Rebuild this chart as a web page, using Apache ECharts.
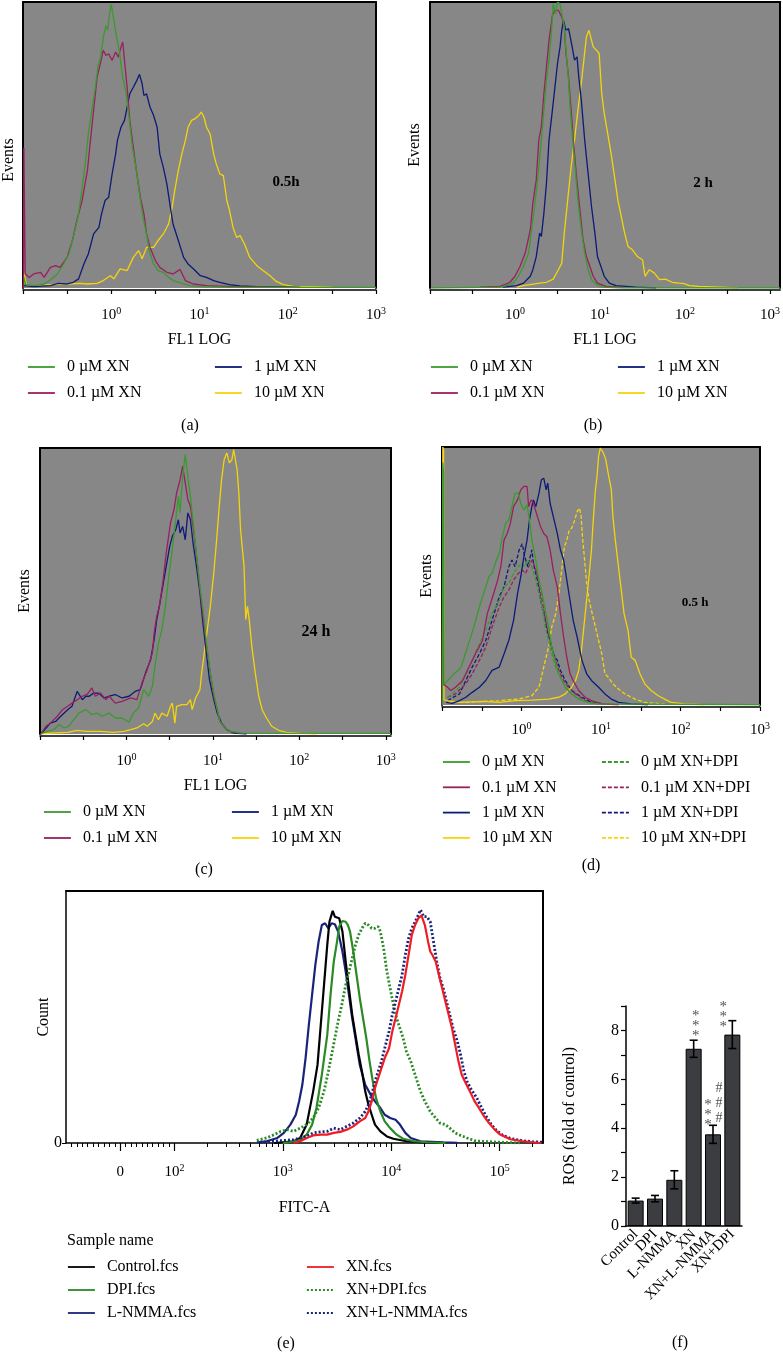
<!DOCTYPE html>
<html><head><meta charset="utf-8">
<script src="https://cdn.jsdelivr.net/npm/echarts@6/dist/echarts.min.js"></script>
<style>html,body{margin:0;padding:0;background:#fff}#c{width:783px;height:1352px}</style>
</head><body><div id="c"></div>
<script>
// ---------- DATA (x = log10 of fluorescence, y = % of panel's max count) ----------
// Panel (a) 0.5 h
const a_0 = [[-0.99,3.7],[-0.97,1.2],[-0.88,0.8],[-0.76,1.4],[-0.69,2.8],[-0.61,4.9],[-0.54,8.4],[-0.48,11.9],[-0.43,17.7],[-0.37,25.9],[-0.33,35.2],[-0.29,44.6],[-0.26,53.9],[-0.22,62.1],[-0.18,70.2],[-0.15,77.8],[-0.12,80.7],[-0.09,87.7],[-0.06,91.8],[-0.04,90.1],[-0.02,95.9],[0,99.2],[0.03,93.6],[0.06,87.7],[0.09,83.1],[0.13,73.7],[0.17,67.9],[0.21,57.4],[0.24,49.2],[0.28,42.2],[0.32,32.9],[0.36,24.7],[0.40,18.9],[0.43,13.1],[0.48,8.4],[0.53,6.1],[0.59,5.5],[0.65,3.7],[0.70,2.6],[0.80,1.6],[0.89,0.8],[1.0,0.5],[1.38,0.2],[3,0.2]];
const a_01 = [[-0.995,0],[-0.99,49],[-0.98,49],[-0.975,5],[-0.93,3.7],[-0.88,4.9],[-0.80,5.5],[-0.76,3.7],[-0.69,7.2],[-0.63,7.8],[-0.58,7.2],[-0.50,10.7],[-0.44,16.6],[-0.39,23.6],[-0.33,30.6],[-0.27,41.1],[-0.24,50.4],[-0.20,62.1],[-0.16,73.7],[-0.12,79],[-0.09,83.1],[-0.06,81.3],[-0.03,81.9],[0.01,79.6],[0.05,82.5],[0.08,80.7],[0.11,84.2],[0.13,86],[0.15,79.6],[0.18,70.2],[0.21,58.6],[0.25,49.2],[0.29,39.9],[0.33,31.7],[0.37,25.9],[0.40,18.9],[0.44,14.2],[0.50,9.6],[0.55,7.2],[0.63,5.5],[0.70,4.9],[0.78,6.5],[0.84,2.6],[0.93,1.4],[1.08,0.8],[1.38,0.5],[2.14,0.2]];
const a_1 = [[-0.99,0.8],[-0.88,0.5],[-0.69,0.8],[-0.60,1.6],[-0.50,1.4],[-0.43,2],[-0.37,3.2],[-0.31,8.4],[-0.26,11.9],[-0.20,18.9],[-0.14,21.2],[-0.11,25.9],[-0.07,30.6],[-0.03,31.7],[0.01,39.9],[0.05,46.9],[0.07,51.6],[0.11,56.2],[0.15,58.6],[0.18,63.2],[0.21,67.9],[0.25,70.2],[0.29,72.6],[0.32,74.7],[0.35,71.4],[0.37,67.3],[0.40,67.9],[0.44,63.2],[0.48,60.3],[0.52,56.2],[0.55,46.9],[0.59,42.2],[0.63,36.4],[0.67,28.2],[0.70,22.4],[0.76,16.6],[0.82,10.7],[0.87,8.4],[0.93,6.7],[1.01,4.3],[1.08,3.7],[1.16,2.6],[1.23,2],[1.34,1.2],[1.46,0.7],[1.65,0.5],[2.14,0.2]];
const a_10 = [[-0.995,0],[-0.99,5.5],[-0.96,0.8],[-0.88,0.8],[-0.69,1.2],[-0.50,1.4],[-0.35,1.6],[-0.27,1.4],[-0.16,1.6],[-0.09,2.6],[-0.01,4.3],[0.03,3.2],[0.10,6.7],[0.18,6.1],[0.25,10.7],[0.31,13.1],[0.35,10.2],[0.40,14.2],[0.48,14.2],[0.53,16.6],[0.59,18.9],[0.65,22.4],[0.69,28.2],[0.72,34.1],[0.76,41.1],[0.80,46.9],[0.84,51.6],[0.87,56.2],[0.91,58.6],[0.95,59.2],[0.99,60.3],[1.02,61.5],[1.05,59.8],[1.08,56.2],[1.12,53.9],[1.16,46.9],[1.19,43.4],[1.23,39.9],[1.27,39.3],[1.31,30.6],[1.34,27.1],[1.38,21.2],[1.42,17.7],[1.46,18.3],[1.51,15.4],[1.57,10.7],[1.65,7.8],[1.72,6.1],[1.80,4.3],[1.87,2.3],[1.95,1.2],[2.06,0.6],[2.29,0.5],[2.51,0.2]];
// Panel (b) 2 h
const b_0 = [[-0.99,0],[-0.18,0.3],[-0.10,0.8],[-0.02,1.7],[0.04,4.1],[0.10,7.6],[0.16,12.2],[0.19,19.2],[0.23,28.5],[0.27,39],[0.31,51.7],[0.34,62.2],[0.37,72.7],[0.40,79.7],[0.43,90.1],[0.45,99.4],[0.48,95.9],[0.50,100],[0.53,99.4],[0.55,95.9],[0.58,91.3],[0.60,83.1],[0.63,72.7],[0.65,62.2],[0.68,51.7],[0.71,41.3],[0.74,30.8],[0.78,20.3],[0.82,12.2],[0.86,6.4],[0.90,2.9],[0.96,1.2],[1.03,0.3],[1.27,0],[3.12,0]];
const b_01 = [[-0.41,0.3],[-0.18,0.6],[-0.12,1.2],[-0.06,2],[0,4.1],[0.06,7.6],[0.12,12.2],[0.18,20.3],[0.21,29.7],[0.25,37.8],[0.28,51.7],[0.31,56.4],[0.34,68],[0.37,77.3],[0.40,86.6],[0.44,95.3],[0.47,97.1],[0.51,97.1],[0.53,97.7],[0.55,94.8],[0.58,91.3],[0.60,82],[0.63,73.8],[0.66,62.2],[0.69,50.6],[0.72,40.1],[0.76,28.5],[0.80,16.9],[0.84,11],[0.88,7.6],[0.92,4.1],[0.97,1.7],[1.07,0.6],[1.27,0.2]];
const b_1 = [[-0.14,0.3],[0.02,0.8],[0.10,1.7],[0.18,4.1],[0.21,6.4],[0.25,11],[0.29,19.2],[0.31,18],[0.34,26.2],[0.37,36.6],[0.40,51.7],[0.44,62.2],[0.47,70.3],[0.50,78.5],[0.53,84.3],[0.55,90.1],[0.57,93.6],[0.60,90.1],[0.63,90.7],[0.65,87.8],[0.68,83.1],[0.70,79.7],[0.73,80.8],[0.75,73.8],[0.78,65.7],[0.82,51.7],[0.86,40.1],[0.90,28.5],[0.94,19.2],[0.97,11],[1.01,7.6],[1.05,4.1],[1.11,1.7],[1.19,0.8],[1.42,0.3],[1.66,0]];
const b_10 = [[0.02,0.3],[0.10,0.8],[0.18,1.2],[0.29,1.7],[0.37,2],[0.45,3.1],[0.51,6.4],[0.55,8.7],[0.58,19.2],[0.62,30.8],[0.66,42.4],[0.70,51.7],[0.74,62.2],[0.78,71.5],[0.81,79.7],[0.84,87.8],[0.87,90.1],[0.89,87.8],[0.92,84.3],[0.96,83.1],[0.99,82],[1.02,68],[1.05,61],[1.09,54.1],[1.13,47.1],[1.17,39],[1.21,30.8],[1.25,25],[1.29,19.2],[1.33,14.5],[1.38,13.4],[1.44,11],[1.50,9.9],[1.53,4.1],[1.58,6.4],[1.64,5.2],[1.70,2.9],[1.77,3.1],[1.85,2],[1.93,1.7],[1.99,1.5],[2.05,0.8],[2.16,0.6],[2.40,0.3],[2.63,0]];
// Panel (c) 24 h
const c_0 = [[-0.99,0],[-0.92,0.9],[-0.84,1.5],[-0.78,3.3],[-0.72,2.1],[-0.67,2.7],[-0.61,5],[-0.55,7.3],[-0.47,8.5],[-0.40,6.8],[-0.34,7.3],[-0.28,6.2],[-0.20,7.3],[-0.13,5.6],[-0.05,5.6],[0.03,4.1],[0.08,7.3],[0.14,9.1],[0.20,15.5],[0.26,13.2],[0.30,16.7],[0.33,23.7],[0.37,31.8],[0.41,36.5],[0.45,44.6],[0.49,55.1],[0.53,64.5],[0.57,74.9],[0.60,83.1],[0.62,77.3],[0.65,90.1],[0.68,97.7],[0.71,90.1],[0.74,83.1],[0.78,71.4],[0.82,59.8],[0.85,51.6],[0.89,42.3],[0.93,30.7],[0.97,21.3],[1.01,14.3],[1.05,8.5],[1.08,4.4],[1.14,2.1],[1.20,0.9],[1.32,0.3],[3.06,0.2]];
const c_01 = [[-0.99,0],[-0.93,2.7],[-0.88,3.8],[-0.80,6.2],[-0.74,8.5],[-0.68,9.7],[-0.63,10.8],[-0.57,12],[-0.51,13.2],[-0.45,14],[-0.40,16.1],[-0.36,13.2],[-0.30,14.3],[-0.24,12],[-0.20,13.2],[-0.13,10.8],[-0.05,11.4],[0.05,12.6],[0.12,12],[0.18,17.8],[0.24,22.5],[0.30,28.3],[0.32,35.3],[0.35,41.1],[0.38,44.6],[0.42,52.8],[0.46,63.3],[0.51,73.8],[0.55,78.4],[0.58,84.3],[0.62,88.9],[0.65,93.6],[0.68,87.8],[0.71,81.9],[0.74,79.6],[0.78,70.3],[0.82,59.8],[0.85,50.5],[0.89,40],[0.93,29.5],[0.97,21.3],[1.01,13.2],[1.05,8.5],[1.08,4.4],[1.14,2.1],[1.20,0.9],[1.32,0.3]];
const c_1 = [[-0.99,0],[-0.93,2.1],[-0.88,3.8],[-0.82,4.4],[-0.76,6.2],[-0.68,8.5],[-0.63,9.7],[-0.57,14.9],[-0.51,12],[-0.47,13.2],[-0.43,13.2],[-0.38,14.3],[-0.32,14.3],[-0.26,12.6],[-0.20,13.2],[-0.13,13.8],[-0.05,12.6],[0.03,13.2],[0.10,14.9],[0.16,15.5],[0.22,21.3],[0.28,26],[0.32,33],[0.35,40],[0.38,44.6],[0.42,51.6],[0.46,58.6],[0.50,65.6],[0.53,69.1],[0.57,71.4],[0.60,74.9],[0.62,70.3],[0.65,72.6],[0.68,67.9],[0.71,77.3],[0.74,74.9],[0.77,66.8],[0.81,58.6],[0.85,49.3],[0.88,40],[0.92,29.5],[0.96,19],[1.01,12],[1.05,7.3],[1.10,3.8],[1.16,1.5],[1.24,0.3],[1.39,0]];
const c_10 = [[-0.99,0],[-0.88,0.3],[-0.68,0.6],[-0.57,1.3],[-0.45,0.9],[-0.30,0.9],[-0.15,0.6],[-0.03,0.9],[0.05,1.5],[0.12,2.1],[0.20,3.6],[0.24,2.7],[0.30,4.4],[0.33,7.3],[0.37,5],[0.41,7.3],[0.47,6.2],[0.51,9.7],[0.53,10.8],[0.56,3.8],[0.58,9.7],[0.64,10.3],[0.70,10.3],[0.74,12],[0.76,8.5],[0.80,12.6],[0.85,15.5],[0.87,21.3],[0.90,28.3],[0.93,35.3],[0.97,44.6],[1.01,56.3],[1.04,66.8],[1.07,78.4],[1.10,88.9],[1.13,95.9],[1.16,98.3],[1.19,94.8],[1.22,95.9],[1.24,99.4],[1.26,100],[1.28,92.4],[1.30,84.3],[1.32,71.4],[1.36,58.6],[1.38,40],[1.40,44.6],[1.42,40],[1.45,30.7],[1.49,21.3],[1.53,13.2],[1.57,8.5],[1.62,5.6],[1.68,2.7],[1.76,1.3],[1.85,0.6],[2.01,0.2],[2.20,0]];
// Panel (d) 0.5 h, with / without DPI
const d_0 = [[-0.995,0],[-0.99,94],[-0.98,90],[-0.975,8],[-0.93,9.5],[-0.89,10.8],[-0.85,12.1],[-0.80,13.4],[-0.76,14.7],[-0.72,18.5],[-0.68,22.4],[-0.64,26.3],[-0.60,30.2],[-0.53,38],[-0.49,41.9],[-0.45,45.8],[-0.41,49.7],[-0.37,51],[-0.33,54.9],[-0.28,58.8],[-0.24,65.2],[-0.20,70.4],[-0.16,71.7],[-0.12,76.9],[-0.08,82.1],[-0.04,82.1],[-0.01,78.2],[0.03,75.6],[0.07,77.6],[0.10,71.7],[0.13,63.9],[0.18,56.2],[0.22,48.4],[0.26,43.2],[0.30,36.7],[0.34,30.2],[0.38,22.4],[0.43,16],[0.47,12.1],[0.51,9.5],[0.55,6.9],[0.63,4.3],[0.72,2.3],[0.84,1],[0.97,0.4],[3,0.1]];
const d_01 = [[-0.995,0],[-0.99,70],[-0.98,8],[-0.93,6.9],[-0.89,5.6],[-0.83,6.9],[-0.74,9.5],[-0.66,14.7],[-0.58,19.8],[-0.49,25],[-0.43,35.4],[-0.39,39.3],[-0.35,43.2],[-0.30,48.4],[-0.26,53.6],[-0.22,63.9],[-0.18,66.5],[-0.14,70.4],[-0.10,76.9],[-0.05,79.5],[-0.01,83.4],[0.03,84.7],[0.07,84.7],[0.09,76.9],[0.12,79.5],[0.15,78.2],[0.20,73],[0.24,69.1],[0.28,66.5],[0.32,65.2],[0.36,60.1],[0.40,52.3],[0.45,45.8],[0.49,35.4],[0.53,26.3],[0.57,18.5],[0.61,12.1],[0.65,9.5],[0.72,5.6],[0.80,3],[0.88,1.7],[1.01,0.4],[1.22,0.1]];
const d_1 = [[-0.95,1],[-0.87,0.6],[-0.78,1.7],[-0.70,3],[-0.62,4.9],[-0.53,6.9],[-0.45,9.5],[-0.37,13.4],[-0.28,14.7],[-0.22,19.8],[-0.16,25],[-0.10,32.8],[-0.05,43.2],[-0.01,49.7],[0.03,57.5],[0.07,63.9],[0.10,71.7],[0.13,76.9],[0.15,79.5],[0.18,76.9],[0.22,82.1],[0.25,87.3],[0.28,87.9],[0.31,83.4],[0.33,86],[0.36,78.2],[0.40,73],[0.45,66.5],[0.49,60.1],[0.53,56.2],[0.57,48.4],[0.61,40.6],[0.65,32.8],[0.70,26.3],[0.76,17.3],[0.82,12.1],[0.88,9.5],[0.97,6.9],[1.05,4.3],[1.13,2.3],[1.22,1],[1.38,0.4],[1.59,0.1]];
const d_10 = [[-0.995,0],[-0.99,100],[-0.98,99],[-0.975,2],[-0.93,1.7],[-0.78,1],[-0.49,1.4],[-0.28,1],[-0.08,1.7],[0.13,1.9],[0.34,2.3],[0.47,3],[0.55,4.3],[0.63,6.9],[0.68,9.5],[0.72,13.4],[0.75,19.8],[0.78,28.9],[0.81,38],[0.84,47.1],[0.88,60.1],[0.90,70.4],[0.93,83.4],[0.95,88.6],[0.97,96.4],[0.99,99.6],[1.01,100],[1.03,97.7],[1.06,95.1],[1.09,89.9],[1.13,83.4],[1.15,73],[1.18,63.9],[1.22,53.6],[1.25,45.8],[1.29,35.4],[1.34,28.9],[1.38,18.5],[1.43,17.3],[1.49,12.1],[1.55,8.2],[1.63,5.6],[1.72,3.6],[1.80,2.3],[1.88,1],[2.05,0.4],[2.30,0.1]];
const d_0dpi = [[-0.93,3.0],[-0.87,4.3],[-0.78,6.9],[-0.70,12.1],[-0.62,17.3],[-0.53,23.7],[-0.45,28.9],[-0.37,35.4],[-0.28,40.6],[-0.22,45.8],[-0.16,47.1],[-0.10,51],[-0.04,53.6],[0,54.9],[0.04,53.6],[0.08,56.2],[0.13,53.6],[0.18,48.4],[0.22,43.2],[0.26,38],[0.30,30.2],[0.34,25],[0.38,19.8],[0.43,14.7],[0.47,12.1],[0.51,9.5],[0.57,6.2],[0.63,4.3],[0.72,2.3],[0.84,1],[0.97,0.4]];
const d_01dpi = [[-0.93,3],[-0.83,4.3],[-0.70,8.2],[-0.62,12.1],[-0.53,17.3],[-0.45,22.4],[-0.37,30.2],[-0.28,38],[-0.22,41.9],[-0.16,44.5],[-0.10,48.4],[-0.04,51],[0.01,52.3],[0.05,51],[0.09,53.6],[0.13,56.2],[0.17,53.6],[0.21,48.4],[0.25,41.9],[0.29,35.4],[0.33,28.9],[0.38,22.4],[0.43,17.3],[0.47,13.4],[0.53,9.5],[0.59,6.9],[0.68,4.3],[0.80,1.7],[0.97,0.4]];
const d_1dpi = [[-0.93,1.7],[-0.78,4.3],[-0.70,9.5],[-0.62,14.7],[-0.53,19.8],[-0.45,25],[-0.37,32.8],[-0.28,41.9],[-0.22,45.8],[-0.16,53.6],[-0.12,56.2],[-0.08,53.6],[-0.03,60.1],[0.01,62.5],[0.04,57.5],[0.08,53.6],[0.13,60.1],[0.15,54.9],[0.20,48.4],[0.24,40.6],[0.28,35.4],[0.32,28.9],[0.36,25],[0.40,19.8],[0.45,17.3],[0.49,13.4],[0.55,9.5],[0.63,5.6],[0.76,3],[0.88,1],[1.05,0.4]];
const d_10dpi = [[-0.93,1],[-0.70,1],[-0.28,1.7],[-0.03,2.3],[0.13,3.6],[0.22,6.9],[0.26,12.1],[0.30,17.3],[0.34,22.4],[0.38,30.2],[0.43,35.4],[0.47,43.2],[0.51,53.6],[0.54,61.3],[0.57,63.9],[0.60,67.8],[0.63,68.5],[0.67,71.7],[0.70,75],[0.73,76.3],[0.75,73],[0.77,63.9],[0.79,57.5],[0.82,47.1],[0.85,40.6],[0.88,36.7],[0.93,30.2],[0.97,25],[1.01,19.8],[1.05,12.1],[1.09,10.8],[1.15,8.2],[1.22,6.2],[1.30,4.3],[1.43,2.3],[1.55,1],[1.80,0.4]];
// Panel (e) FITC-A (x = log10 FITC-A)
const e_ctrl = [[2.92,0],[3.10,0.7],[3.16,2],[3.22,7.3],[3.28,20.5],[3.32,31],[3.35,46.9],[3.38,62.7],[3.41,78.6],[3.43,87.8],[3.46,92.1],[3.48,89.8],[3.52,89.2],[3.55,83.9],[3.58,72],[3.61,61.4],[3.64,50.9],[3.67,42.9],[3.70,35],[3.73,28.4],[3.76,20.5],[3.79,15.2],[3.82,11.2],[3.85,7.3],[3.90,4.6],[3.96,2.6],[4.02,1.7],[4.14,0.7],[4.27,0.3],[4.5,0]];
const e_dpi = [[3.0,0],[3.07,0.4],[3.16,1.3],[3.22,3.3],[3.27,7.3],[3.31,13.9],[3.36,27.1],[3.41,42.9],[3.44,58.8],[3.47,72],[3.50,79.9],[3.52,85.9],[3.55,88.1],[3.58,87.8],[3.60,86.5],[3.62,83.9],[3.65,76],[3.68,66.7],[3.71,57.5],[3.74,49.5],[3.77,41.6],[3.80,32.4],[3.83,24.4],[3.86,17.8],[3.90,12.5],[3.94,8.6],[3.99,5.9],[4.05,3.3],[4.11,1.7],[4.21,0.7],[4.33,0.3],[4.5,0]];
const e_lnmma = [[2.76,0.3],[2.85,0.7],[2.95,2],[3.01,4],[3.07,7.3],[3.12,11.2],[3.15,16.5],[3.18,23.1],[3.21,33.7],[3.24,46.9],[3.27,58.8],[3.30,70.7],[3.33,79.9],[3.36,86.5],[3.39,87.2],[3.42,85.2],[3.45,87.2],[3.48,86.8],[3.51,83.9],[3.55,76],[3.58,68],[3.61,58.8],[3.64,49.5],[3.67,41.6],[3.71,31],[3.76,23.1],[3.81,19.2],[3.85,16.5],[3.90,13.9],[3.94,11.2],[3.99,9.9],[4.04,9.2],[4.08,7.3],[4.13,4],[4.18,2],[4.27,0.7],[4.48,0.3],[4.61,0.1]];
const e_xn = [[3.10,0],[3.16,0.7],[3.22,2],[3.28,3],[3.35,3.3],[3.41,3.3],[3.47,4],[3.53,4.4],[3.59,5.3],[3.65,6.6],[3.71,8.6],[3.76,9.9],[3.79,12.5],[3.82,16.5],[3.85,21.8],[3.88,25.8],[3.91,29.7],[3.94,33.7],[3.98,37.6],[4.01,44.3],[4.04,49.5],[4.07,54.8],[4.10,60.1],[4.13,66.7],[4.16,74.6],[4.19,82.6],[4.22,86.5],[4.25,89.2],[4.28,90.2],[4.31,86.5],[4.34,79.9],[4.36,76],[4.38,74.6],[4.41,72],[4.44,66.7],[4.47,61.4],[4.50,56.1],[4.53,50.9],[4.56,45.6],[4.59,39],[4.62,32.4],[4.65,27.1],[4.68,24.4],[4.71,21.8],[4.74,19.2],[4.77,16.5],[4.80,14.5],[4.85,11],[4.90,8],[4.95,5.5],[5.00,3.5],[5.10,1.5],[5.20,0.8],[5.30,0.3],[5.38,0]];
const e_xndpi = [[2.76,1],[2.85,2],[2.92,3.3],[2.98,4.6],[3.04,5.3],[3.10,4.6],[3.16,5.9],[3.22,7.3],[3.28,9.9],[3.33,13.9],[3.38,20.5],[3.42,28.4],[3.45,35],[3.48,41.6],[3.51,48.2],[3.55,56.1],[3.58,62.7],[3.61,68],[3.64,73.3],[3.67,78.6],[3.70,82.6],[3.73,85.2],[3.76,87.2],[3.79,86.5],[3.82,85.2],[3.85,85.2],[3.88,85.9],[3.90,83.9],[3.93,77.3],[3.96,68],[3.99,61.4],[4.02,54.8],[4.05,49.5],[4.08,45.6],[4.11,41.6],[4.14,36.3],[4.18,32.4],[4.21,28.4],[4.24,24.4],[4.27,20.5],[4.31,16.5],[4.36,12.5],[4.41,9.9],[4.45,7.9],[4.50,7.3],[4.54,5.9],[4.59,4],[4.64,3],[4.70,2],[4.77,0.9],[4.82,0.7],[5.0,0.3],[5.2,0]];
const e_xnlnmma = [[2.79,0.3],[3.10,1.3],[3.22,2.6],[3.28,4],[3.35,4.4],[3.41,4.6],[3.47,5.9],[3.53,5.3],[3.59,6.6],[3.65,7.9],[3.71,9.9],[3.76,12.5],[3.79,15.2],[3.82,19.2],[3.85,24.4],[3.88,28.4],[3.91,32.4],[3.94,37.6],[3.98,44.3],[4.01,50.9],[4.04,56.1],[4.07,61.4],[4.10,66.7],[4.13,74.6],[4.16,81.2],[4.19,85.2],[4.22,87.8],[4.25,90.5],[4.27,92.5],[4.30,89.8],[4.33,89.8],[4.36,87.8],[4.39,79.9],[4.42,72],[4.45,65.4],[4.48,61.4],[4.51,56.1],[4.54,50.9],[4.57,45.6],[4.61,40.3],[4.64,35],[4.67,28.4],[4.70,24.4],[4.73,21.8],[4.76,19.8],[4.79,17.8],[4.82,15.2],[4.87,11],[4.92,7.5],[4.97,5],[5.03,3],[5.10,1.8],[5.20,1],[5.30,0.5],[5.40,0.3]];
// Panel (f) ROS bar chart
const fCats = ['Control','DPI','L-NMMA','XN','XN+L-NMMA','XN+DPI'];
const fMean = [1.04, 1.12, 1.89, 7.25, 3.75, 7.83];
const fErr  = [0.1, 0.13, 0.37, 0.35, 0.37, 0.57];
const fStars = ['', '', '', '***', '***', '***'];
const fHash  = ['', '', '', '', '###', ''];
// Axis tick labels
const decadeLabels = [0, 1, 2, 3];
const fitcLabels = [1.5, 2, 3, 4, 5];   // 1.5 = the "0" position of the biexponential axis

// ---------- STYLE ----------
const FONT = '"Liberation Serif","DejaVu Serif",serif';
const GRAY = '#878787';
const C = {g:'#3a9a2e', m:'#9b1f5e', n:'#0d1a78', y:'#f5d40a'};
const grids = [], xAxes = [], yAxes = [], series = [], legends = [], graphics = [];

const supRich = {
  b:{fontFamily:FONT, fontSize:15, color:'#000', lineHeight:18},
  s:{fontFamily:FONT, fontSize:10, color:'#000', lineHeight:10, verticalAlign:'top'}
};
const halfTicks = [];
for (let v = -1; v <= 3.001; v += 0.5) halfTicks.push(Math.round(v*10)/10);

function frameAxes(gi, xmin, xmax, ymax) {
  xAxes.push({gridIndex:gi, type:'value', min:xmin, max:xmax, position:'top',
    axisLine:{onZero:false, lineStyle:{color:'#000', width:2}}, axisTick:{show:false}, axisLabel:{show:false}, splitLine:{show:false}});
  yAxes.push({gridIndex:gi, type:'value', min:0, max:ymax, position:'right',
    axisLine:{show:true, onZero:false, lineStyle:{color:'#000', width:2}}, axisTick:{show:false}, axisLabel:{show:false}, splitLine:{show:false}});
}

function histPanel(p) {
  const gi = grids.length;
  grids.push({left:p.left, top:p.top, width:p.width, height:p.height, show:true, backgroundColor:GRAY, borderWidth:0});
  const xi = xAxes.length;
  xAxes.push({gridIndex:gi, type:'value', min:-1, max:p.xmax, interval:0.5, position:'bottom', offset:2,
    axisLine:{onZero:false, lineStyle:{color:'#000', width:1.5}},
    axisTick:{show:true, customValues:halfTicks, length:4, lineStyle:{color:'#000', width:1.2}},
    axisLabel:{customValues:decadeLabels, margin:p.labelMargin, rich:supRich,
      formatter:v => (Math.abs(v - Math.round(v)) < 1e-6 && v >= 0) ? '{b|10}{s|' + Math.round(v) + '}' : ''},
    splitLine:{show:false},
    name:p.xName || '', nameLocation:'middle', nameGap:42,
    nameTextStyle:{fontFamily:FONT, fontSize:16, color:'#000'}});
  const yi = yAxes.length;
  yAxes.push({gridIndex:gi, type:'value', min:0, max:100, position:'left',
    axisLine:{show:true, onZero:false, lineStyle:{color:'#000', width:2}}, axisTick:{show:false}, axisLabel:{show:false}, splitLine:{show:false},
    name:'Events', nameLocation:'middle', nameGap:p.evGap,
    nameTextStyle:{fontFamily:FONT, fontSize:16, color:'#000', padding:p.evPad || 0}});
  frameAxes(gi, -1, p.xmax, 100);
  p.lines.forEach((s, k) => series.push({type:'line', name:s[0], data:s[1], xAxisIndex:xi, yAxisIndex:yi,
    showSymbol:false, symbol:'none', silent:true, z:2 + k,
    lineStyle:{color:s[2], width:1.3, type:s[3] || 'solid'}, itemStyle:{color:s[2]}}));
}

function addLegend(left, top, gap, names) {
  legends.push({orient:'vertical', left:left, top:top, padding:0, itemGap:gap, itemWidth:27, itemHeight:14,
    selectedMode:false, data:names, itemStyle:{opacity:0}, lineStyle:{width:1.8},
    textStyle:{fontFamily:FONT, fontSize:16, color:'#000', padding:[0,0,0,7]}});
}
function txt(x, y, s, size, weight) {
  graphics.push({type:'text', x:x, y:y, silent:true,
    style:{text:s, fontFamily:FONT, fontSize:size || 16, fontWeight:weight || 'normal', fill:'#000', align:'center', verticalAlign:'middle'}});
}

const N0 = '0 µM XN', N01 = '0.1 µM XN', N1 = '1 µM XN', N10 = '10 µM XN';

// (a)
histPanel({left:23, top:2, width:353, height:286, xmax:3, labelMargin:16, xName:'FL1 LOG', evGap:6, evPad:[0,30,0,0],
  lines:[[N10,a_10,C.y],[N1,a_1,C.n],[N01,a_01,C.m],[N0,a_0,C.g]]});
addLegend(27, 359, 10, [N0, N01]); addLegend(214, 359, 10, [N1, N10]);
txt(286, 182, '0.5h', 15, 'bold'); txt(190, 426, '(a)');
// (b)
histPanel({left:430, top:2, width:353, height:286, xmax:3.12, labelMargin:16, xName:'FL1 LOG', evGap:7,
  lines:[[N10,b_10,C.y],[N1,b_1,C.n],[N01,b_01,C.m],[N0,b_0,C.g]]});
addLegend(430, 359, 10, [N0, N01]); addLegend(617, 359, 10, [N1, N10]);
txt(703, 183, '2 h', 15, 'bold'); txt(593, 426, '(b)');
// (c)
histPanel({left:40, top:448, width:351, height:286, xmax:3.06, labelMargin:16, xName:'FL1 LOG', evGap:7,
  lines:[[N10,c_10,C.y],[N1,c_1,C.n],[N01,c_01,C.m],[N0,c_0,C.g]]});
addLegend(43, 804, 10, [N0, N01]); addLegend(231, 804, 10, [N1, N10]);
txt(316, 632, '24 h', 16, 'bold'); txt(204, 870, '(c)');
// (d)
const D = ' µM XN+DPI';
histPanel({left:442, top:447, width:318, height:258, xmax:3, labelMargin:14, xName:'', evGap:7,
  lines:[['10'+D,d_10dpi,C.y,[4,2]],['1'+D,d_1dpi,C.n,[4,2]],['0.1'+D,d_01dpi,C.m,[4,2]],['0'+D,d_0dpi,C.g,[4,2]],
         [N10,d_10,C.y],[N1,d_1,C.n],[N01,d_01,C.m],[N0,d_0,C.g]]});
addLegend(442, 754, 9.3, [N0, N01, N1, N10]); addLegend(601, 754, 9.3, ['0'+D,'0.1'+D,'1'+D,'10'+D]);
txt(695, 603, '0.5 h', 13, 'bold'); txt(591, 866, '(d)');

// (e)
{
  const gi = grids.length;
  grids.push({left:66, top:891, width:477, height:252, show:false});
  const minor = [];
  for (let v = -90; v <= 90; v += 10) if (v !== 0) minor.push(1.5 + v / 200);
  for (let d = 2; d <= 5; d++) for (let k = 2; k <= 9; k++) { const t = d + Math.log10(k); if (t < 5.40) minor.push(t); }
  const xi = xAxes.length;
  xAxes.push({gridIndex:gi, type:'value', min:1.0, max:5.40, position:'bottom',
    axisLine:{onZero:false, lineStyle:{color:'#000', width:1.5}},
    axisTick:{customValues:fitcLabels, length:8, lineStyle:{color:'#000', width:1.2}},
    axisLabel:{customValues:fitcLabels, margin:20, rich:supRich,
      formatter:v => Math.abs(v - 1.5) < 1e-6 ? '{b|0}' : '{b|10}{s|' + Math.round(v) + '}'},
    splitLine:{show:false}, name:'FITC-A', nameLocation:'middle', nameGap:57,
    nameTextStyle:{fontFamily:FONT, fontSize:16, color:'#000'}});
  xAxes.push({gridIndex:gi, type:'value', min:1.0, max:5.40, position:'bottom',
    axisLine:{show:false, onZero:false}, axisLabel:{show:false}, splitLine:{show:false},
    axisTick:{customValues:minor, length:4, lineStyle:{color:'#000', width:1}}});
  const yi = yAxes.length;
  yAxes.push({gridIndex:gi, type:'value', min:0, max:100, position:'left',
    axisLine:{show:true, onZero:false, lineStyle:{color:'#000', width:1.5}},
    axisTick:{customValues:[0], length:4}, axisLabel:{customValues:[0], margin:4, fontFamily:FONT, fontSize:16, color:'#000'},
    splitLine:{show:false}, name:'Count', nameLocation:'middle', nameGap:14, nameMoveOverlap:false,
    nameTextStyle:{fontFamily:FONT, fontSize:16, color:'#000'}});
  frameAxes(gi, 1.0, 5.40, 100);
  const eLines = [['L-NMMA.fcs', e_lnmma, '#1a237a', 'solid', 2.2], ['Control.fcs', e_ctrl, '#000000', 'solid', 2.2],
    ['DPI.fcs', e_dpi, '#2a8a24', 'solid', 2.2], ['XN+DPI.fcs', e_xndpi, '#2a8a24', [2,2], 2.8],
    ['XN+L-NMMA.fcs', e_xnlnmma, '#1a237a', [2,2], 2.8], ['XN.fcs', e_xn, '#ee1c24', 'solid', 2.2]];
  eLines.forEach((s, k) => series.push({type:'line', name:s[0], data:s[1], xAxisIndex:xi, yAxisIndex:yi,
    showSymbol:false, symbol:'none', silent:true, z:2 + k,
    lineStyle:{color:s[2], width:s[4], type:s[3]}, itemStyle:{color:s[2]}}));
  addLegend(67, 1259, 7, ['Control.fcs', 'DPI.fcs', 'L-NMMA.fcs']);
  addLegend(306, 1259, 7, ['XN.fcs', 'XN+DPI.fcs', 'XN+L-NMMA.fcs']);
  graphics.push({type:'text', x:67, y:1241, silent:true,
    style:{text:'Sample name', fontFamily:FONT, fontSize:16, fill:'#000', align:'left', verticalAlign:'middle'}});
  txt(286, 1344, '(e)');
}

// (f)
{
  const gi = grids.length;
  grids.push({left:626, top:1006, width:116, height:220, show:false});
  const xi = xAxes.length;
  xAxes.push({gridIndex:gi, type:'category', data:fCats, position:'bottom',
    axisLine:{onZero:false, lineStyle:{color:'#000', width:1.5}},
    axisTick:{alignWithLabel:true, length:5, lineStyle:{color:'#000', width:1.2}},
    axisLabel:{rotate:45, interval:0, margin:6, fontFamily:FONT, fontSize:15, color:'#000'}});
  const yi = yAxes.length;
  yAxes.push({gridIndex:gi, type:'value', min:0, max:9, interval:1, position:'left',
    axisLine:{show:true, onZero:false, lineStyle:{color:'#000', width:1.5}},
    axisTick:{show:true, length:5, lineStyle:{color:'#000', width:1.2}},
    axisLabel:{margin:7, fontFamily:FONT, fontSize:16, color:'#000', formatter:v => (v % 2 === 0 ? String(v) : '')},
    splitLine:{show:false}, name:'ROS (fold of control)', nameLocation:'middle', nameGap:48,
    nameTextStyle:{fontFamily:FONT, fontSize:16, color:'#000'}});
  series.push({type:'bar', xAxisIndex:xi, yAxisIndex:yi, data:fMean, barWidth:16, silent:true,
    itemStyle:{color:'#3c3d41', borderColor:'#000', borderWidth:1}});
  series.push({type:'custom', xAxisIndex:xi, yAxisIndex:yi, silent:true, z:5,
    data:fMean.map((m, i) => [i, m - fErr[i], m + fErr[i]]),
    renderItem:(params, api) => {
      const lo = api.coord([api.value(0), api.value(1)]), hi = api.coord([api.value(0), api.value(2)]);
      const w = 4, st = {stroke:'#000', lineWidth:1.6};
      return {type:'group', children:[
        {type:'line', shape:{x1:hi[0], y1:hi[1], x2:lo[0], y2:lo[1]}, style:st},
        {type:'line', shape:{x1:hi[0]-w, y1:hi[1], x2:hi[0]+w, y2:hi[1]}, style:st},
        {type:'line', shape:{x1:lo[0]-w, y1:lo[1], x2:lo[0]+w, y2:lo[1]}, style:st}]};
    }});
  const starOff = [[0,0],[0,0],[0,0],[2,2],[-5,6],[-9,13]];
  const hashOff = [[0,0],[0,0],[0,0],[0,0],[6,2],[0,0]];
  const mk = (marks, offs, lh, size) => ({type:'scatter', xAxisIndex:xi, yAxisIndex:yi, silent:true, z:6,
    symbol:'circle', symbolSize:1, itemStyle:{color:'rgba(0,0,0,0)'},
    data:fMean.map((m, i) => ({value:[i, m + fErr[i]],
      label:{show:marks[i] !== '', position:'top', distance:1, offset:offs[i],
        formatter:marks[i].split('').join('\n'), fontFamily:FONT, fontSize:size, lineHeight:lh, color:'#222'}}))});
  series.push(mk(fStars, starOff, 10, 15));
  series.push(mk(fHash, hashOff, 15, 14));
  txt(680, 1343, '(f)');
}

const chart = echarts.init(document.getElementById('c'), null, {renderer:'canvas'});
chart.setOption({animation:false, textStyle:{fontFamily:FONT},
  grid:grids, xAxis:xAxes, yAxis:yAxes, series:series, legend:legends, graphic:{elements:graphics}});
</script></body></html>
